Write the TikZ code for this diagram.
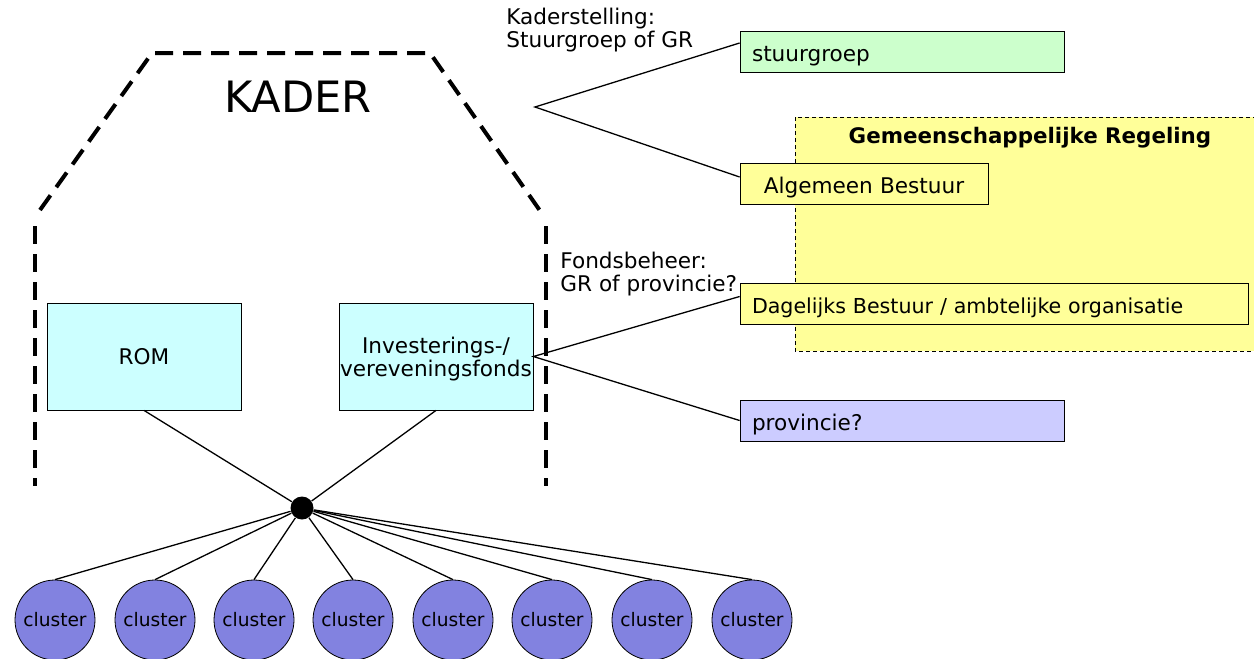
\documentclass[tikz,border=0pt]{standalone}
\usepackage{fontspec}
\setmainfont{DejaVu Sans}
\usepackage{xcolor}
\usetikzlibrary{positioning}

\definecolor{kadergreen}{RGB}{204,255,204}
\definecolor{gryellow}{RGB}{255,255,153}
\definecolor{fondscyan}{RGB}{204,255,255}
\definecolor{provlilac}{RGB}{204,204,255}
\definecolor{clusterblue}{RGB}{130,130,224}

\begin{document}
\begin{tikzpicture}[
    x=0.5pt, y=-0.5pt,
    font=\fontsize{10.8}{11.4}\selectfont,
    frame/.style={line width=2pt, dash pattern=on 9pt off 5pt},
    region/.style={draw, fill=gryellow, line width=0.5pt, dash pattern=on 2pt off 1.5pt},
    fund/.style={draw, fill=fondscyan, align=center, inner sep=0pt,
        minimum width=97pt, minimum height=53.5pt},
    body/.style={draw, fill=#1, inner xsep=6pt, inner ysep=0pt, align=left,
        text height=15pt, text depth=5.5pt},
    note/.style={align=left, anchor=north west, inner sep=0pt},
    cluster/.style={circle, draw, fill=clusterblue, inner sep=0pt, minimum size=40pt,
        font=\fontsize{9.3}{11}\selectfont},
    link/.style={line width=0.65pt},
]
    \useasboundingbox (0,0) rectangle (1254,659);

    % kader outline
    \draw[frame] (40,210) -- (152,53) -- (430,53) -- (543,215);
    \draw[frame] (35,226) -- (35,486);
    \draw[frame] (546,226) -- (546,486);
    \node[font=\fontsize{21.6}{26}\selectfont] (kader) at (298,97) {KADER};

    % gemeenschappelijke regeling
    \filldraw[region] (795,117) rectangle (1254,351);
    \node[font=\bfseries\fontsize{10.7}{12}\selectfont] (grtitle) at (1030,138) {Gemeenschappelijke Regeling};

    % bestuursorganen
    \node[body=kadergreen, text width=150pt] (stuur) at (902,51.5) {stuurgroep};
    \node[body=gryellow, text width=112pt, align=center] (ab) at (864,184) {Algemeen Bestuur};
    \node[body=gryellow, text width=242pt, font=\fontsize{10.3}{11}\selectfont] (db) at (994,303.5) {Dagelijks Bestuur / ambtelijke organisatie};
    \node[body=provlilac, text width=150pt] (prov) at (902,420.5) {provincie?};

    \node[note] (kaderstelling) at (506,8) {Kaderstelling:\\Stuurgroep of GR};
    \node[note] (fondsbeheer) at (560,252) {Fondsbeheer:\\GR of provincie?};

    % fondsen
    \node[fund, text depth=-4pt] (rom) at (144,356.5) {ROM};
    \node[fund, text depth=-2.6pt] (fonds) at (436,356.5) {Investerings-/\\vereveningsfonds};

    \coordinate (fork) at (535,107);
    \draw[link] ([yshift=4.25pt]stuur.west) -- (fork) -- ([yshift=3.5pt]ab.west);
    \draw[link] ([yshift=3.5pt]db.west) -- (fonds.east) -- (prov.west);

    % clusters
    \node[circle, fill=black, inner sep=0pt, minimum size=11.5pt] (hub) at (302,508) {};
    \draw[link] (rom.south) -- (hub) -- (fonds.south);
    \foreach \i/\cx in {1/55,2/155,3/254,4/353,5/453,6/552,7/652,8/752} {
        \node[cluster] (c\i) at (\cx,620) {cluster};
        \draw[link] (hub) -- (c\i.north);
    }
\end{tikzpicture}
\end{document}
